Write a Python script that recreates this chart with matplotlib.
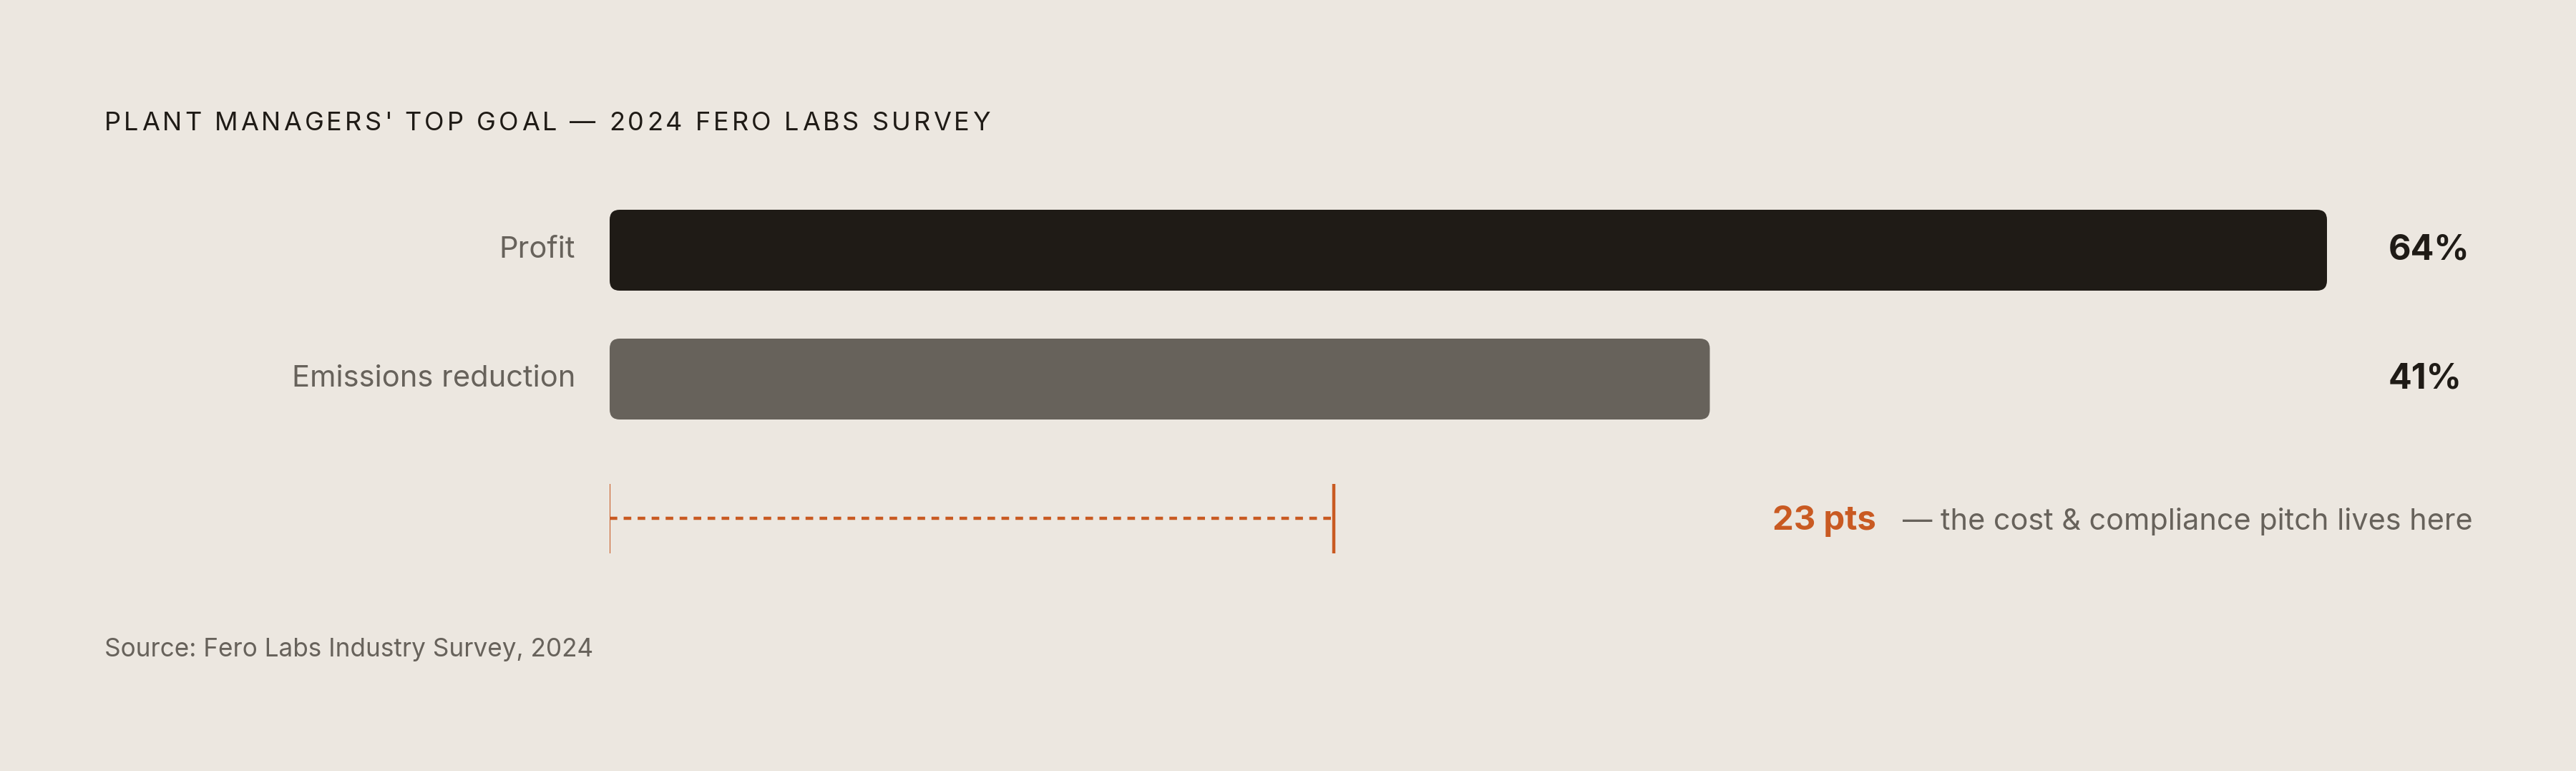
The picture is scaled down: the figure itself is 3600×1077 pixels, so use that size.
import matplotlib
matplotlib.use("Agg")
import matplotlib.pyplot as plt
from matplotlib.patches import FancyBboxPatch

# data
categories = ["Profit", "Emissions reduction"]
values = [64, 41]
bar_colors = ["#1f1b16", "#67625b"]
title = "PLANT MANAGERS' TOP GOAL \u2014 2024 FERO LABS SURVEY"
source = "Source: Fero Labs Industry Survey, 2024"
note = "\u2014 the cost & compliance pitch lives here"

gap = values[0] - values[1]

BG = "#ece7e0"
DARK = "#1f1b16"
GREY = "#67625b"
ORANGE = "#c95a22"
FONT = ["Inter", "DejaVu Sans"]

W, H = 3600, 1077
fig = plt.figure(figsize=(W / 100, H / 100), dpi=100, facecolor=BG)

# axes: x in percent, 37.5 px per point; y rows 180 px apart
x0_px, px_per = 852, 37.5
row0_px, row_px = 349.5, 180
ax = fig.add_axes([x0_px / W, 0, (W - x0_px) / W, 1])
ax.set_facecolor(BG)
ax.set_xlim(0, (W - x0_px) / px_per)
ax.set_ylim((H - row0_px) / row_px, -row0_px / row_px)
ax.axis("off")

bar_h = 113 / row_px
radius = 14 / px_per
aspect = px_per / row_px
for i, (v, c) in enumerate(zip(values, bar_colors)):
    ax.add_patch(FancyBboxPatch((0, i - bar_h / 2), v, bar_h,
                                boxstyle=f"round,pad=0,rounding_size={radius}",
                                mutation_aspect=aspect, fc=c, ec="none"))
    ax.text(-48 / px_per, i, categories[i], ha="right", va="center",
            fontsize=30, color=GREY, family=FONT)
    ax.text(max(values) + 86 / px_per, i, f"{v}%", ha="left", va="center",
            fontsize=35, fontweight="bold", color=DARK, family=FONT)

# gap bracket
yb = (724 - row0_px) / row_px
y_top, y_bot = (676 - row0_px) / row_px, (773 - row0_px) / row_px
span = gap * 1011 / 862
ax.plot([0, span], [yb, yb], color=ORANGE, lw=3.2, dashes=(2.4, 2.0),
        solid_capstyle="butt", dash_capstyle="butt")
ax.plot([0, 0], [y_top, y_bot], color=ORANGE, lw=1.5, solid_capstyle="butt")
ax.plot([span, span], [y_top, y_bot], color=ORANGE, lw=3.2, solid_capstyle="butt")

yt = (740 - row0_px) / row_px
ax.text((2477 - x0_px) / px_per, yt, f"{gap} pts", ha="left", va="baseline",
        fontsize=34, fontweight="bold", color=ORANGE, family=FONT)
ax.text((2659 - x0_px) / px_per, yt, note, ha="left", va="baseline",
        fontsize=29.8, color=GREY, family=FONT)

# letter-spaced title, drawn char by char
renderer = fig.canvas.get_renderer()
probe = fig.text(0, 0, "", fontsize=26, family=FONT)


def width_px(s):
    probe.set_text(s + "X")
    w = probe.get_window_extent(renderer).width
    probe.set_text("X")
    return w - probe.get_window_extent(renderer).width


spacing = 4.1
ty = 1 - 181.7 / H
for i, ch in enumerate(title):
    x = 146 + width_px(title[:i]) + i * spacing
    fig.text(x / W, ty, ch, ha="left", va="baseline", fontsize=26,
             color=DARK, family=FONT)
probe.remove()

fig.text(146 / W, 1 - 916.7 / H, source, ha="left", va="baseline",
         fontsize=25.3, color=GREY, family=FONT)

fig.savefig("out.png", dpi=100, facecolor=BG)
